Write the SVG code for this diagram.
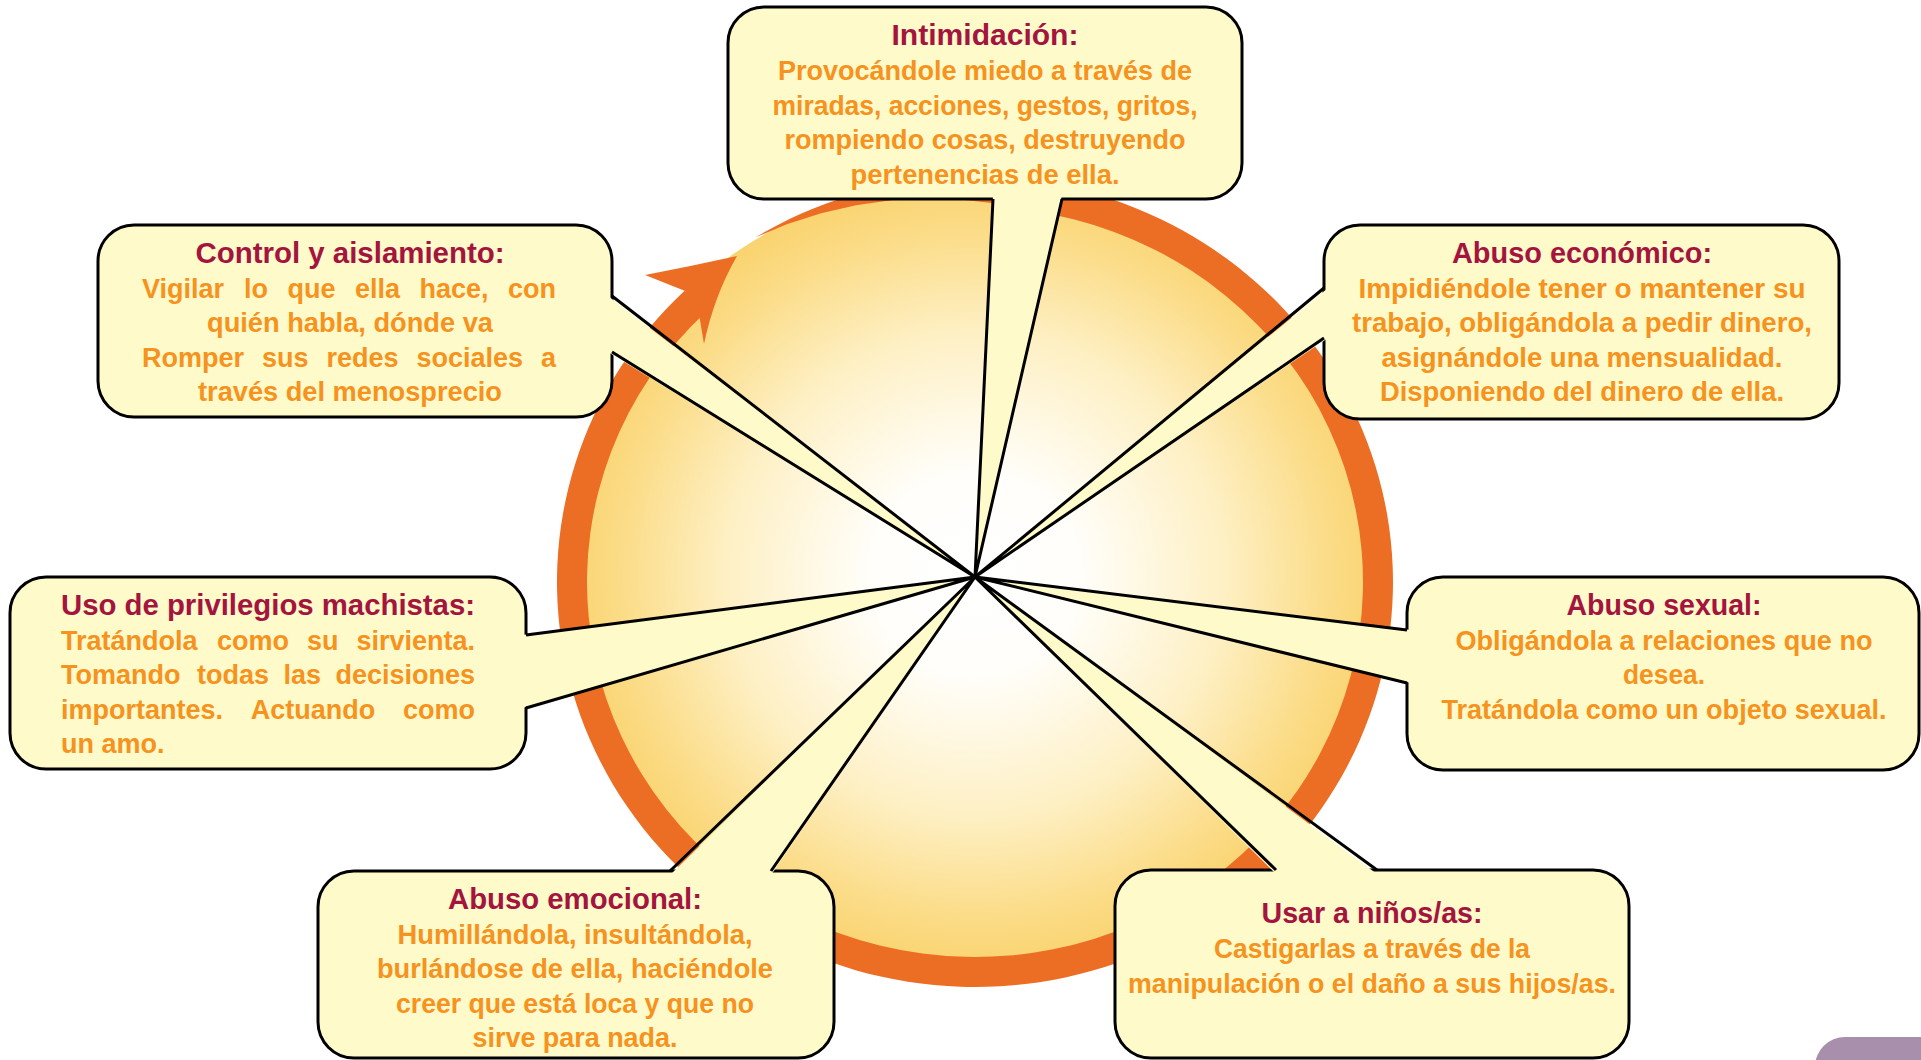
<svg xmlns="http://www.w3.org/2000/svg" width="1921" height="1060" viewBox="0 0 1921 1060">
<defs>
<radialGradient id="disk" cx="0.5" cy="0.49" r="0.5">
<stop offset="0" stop-color="#ffffff"/>
<stop offset="0.25" stop-color="#fffefa"/>
<stop offset="0.6" stop-color="#fef0c4"/>
<stop offset="0.85" stop-color="#fbdc88"/>
<stop offset="1" stop-color="#f9d26b"/>
</radialGradient>
<style>
.box{fill:#fffac9;stroke:#000;stroke-width:3}
.tf{fill:#fffac9;stroke:none}
.tl{fill:none;stroke:#000;stroke-width:3;stroke-linejoin:round}
.t{font-family:"Liberation Sans",Arial,sans-serif;font-weight:bold;font-size:29px;fill:#a3143f;text-anchor:middle}
.b{font-family:"Liberation Sans",Arial,sans-serif;font-weight:bold;font-size:27px;fill:#f6921e;text-anchor:middle}
.bl{font-family:"Liberation Sans",Arial,sans-serif;font-weight:bold;font-size:27px;fill:#f6921e;text-anchor:start}
.tl2{font-family:"Liberation Sans",Arial,sans-serif;font-weight:bold;font-size:29px;fill:#a3143f;text-anchor:start}
.e{text-anchor:end}
</style>
</defs>
<rect width="1921" height="1060" fill="#ffffff"/>
<g id="wheel">
<ellipse cx="975" cy="582" rx="416" ry="403" fill="url(#disk)"/>
<path fill="#ec6e25" d="M755.4,237.4 A418,405 0 1 1 684.6,290.7 L705.5,312.2 A388,375 0 1 0 1031,210.9 L995.5,203.5 L961.2,199.5 L926.3,198.4 L891.2,200.3 L856,205.2 L821.1,213.3 L786.8,224.3 Z"/>
<path fill="#ec6e25" d="M684.6,290.7 L645,275 Q692,266 737,256 Q714,296 704,344 L698,308 Z"/>
</g>
<g id="node-intimidacion">
<rect class="box" x="728" y="7" width="514" height="192" rx="36"/>
<text class="t" x="985" y="45" textLength="187" lengthAdjust="spacingAndGlyphs">Intimidación:</text>
<text class="b" x="985" y="80" textLength="414" lengthAdjust="spacingAndGlyphs">Provocándole miedo a través de</text>
<text class="b" x="985" y="114.5" textLength="425" lengthAdjust="spacingAndGlyphs">miradas, acciones, gestos, gritos,</text>
<text class="b" x="985" y="149" textLength="401" lengthAdjust="spacingAndGlyphs">rompiendo cosas, destruyendo</text>
<text class="b" x="985" y="183.5" textLength="269" lengthAdjust="spacingAndGlyphs">pertenencias de ella.</text>
</g>
<g id="node-control">
<rect class="box" x="98" y="225" width="514" height="192" rx="36"/>
<text class="t" x="350" y="263" textLength="309" lengthAdjust="spacingAndGlyphs">Control y aislamiento:</text>
<text class="bl" y="297.5"><tspan x="142">Vigilar</tspan><tspan x="244">lo</tspan><tspan x="287.5">que</tspan><tspan x="355">ella</tspan><tspan x="419.5">hace,</tspan><tspan class="e" x="556">con</tspan></text>
<text class="b" x="350" y="332" textLength="286" lengthAdjust="spacingAndGlyphs">quién habla, dónde va</text>
<text class="bl" y="366.5"><tspan x="142">Romper</tspan><tspan x="262">sus</tspan><tspan x="326.5">redes</tspan><tspan x="416.5">sociales</tspan><tspan class="e" x="556">a</tspan></text>
<text class="b" x="350" y="401" textLength="304" lengthAdjust="spacingAndGlyphs">través del menosprecio</text>
</g>
<g id="node-economico">
<rect class="box" x="1324" y="225" width="515" height="194" rx="36"/>
<text class="t" x="1582" y="263" textLength="260" lengthAdjust="spacingAndGlyphs">Abuso económico:</text>
<text class="b" x="1582" y="297.5" textLength="447" lengthAdjust="spacingAndGlyphs">Impidiéndole tener o mantener su</text>
<text class="b" x="1582" y="332" textLength="460" lengthAdjust="spacingAndGlyphs">trabajo, obligándola a pedir dinero,</text>
<text class="b" x="1582" y="366.5" textLength="401" lengthAdjust="spacingAndGlyphs">asignándole una mensualidad.</text>
<text class="b" x="1582" y="401" textLength="404" lengthAdjust="spacingAndGlyphs">Disponiendo del dinero de ella.</text>
</g>
<g id="node-privilegios">
<rect class="box" x="10" y="577" width="516" height="192" rx="36"/>
<text class="tl2" x="61" y="615" textLength="414" lengthAdjust="spacingAndGlyphs">Uso de privilegios machistas:</text>
<text class="bl" y="649.5"><tspan x="61">Tratándola</tspan><tspan x="217">como</tspan><tspan x="307">su</tspan><tspan class="e" x="475">sirvienta.</tspan></text>
<text class="bl" y="684"><tspan x="61">Tomando</tspan><tspan x="197">todas</tspan><tspan x="283.5">las</tspan><tspan class="e" x="475">decisiones</tspan></text>
<text class="bl" y="718.5"><tspan x="61">importantes.</tspan><tspan x="250.7">Actuando</tspan><tspan class="e" x="475">como</tspan></text>
<text class="bl" x="61" y="753">un amo.</text>
</g>
<g id="node-sexual">
<rect class="box" x="1407" y="577" width="512" height="193" rx="36"/>
<text class="t" x="1664" y="615" textLength="195" lengthAdjust="spacingAndGlyphs">Abuso sexual:</text>
<text class="b" x="1664" y="649.5" textLength="417" lengthAdjust="spacingAndGlyphs">Obligándola a relaciones que no</text>
<text class="b" x="1664" y="684" textLength="82" lengthAdjust="spacingAndGlyphs">desea.</text>
<text class="b" x="1664" y="718.5" textLength="445" lengthAdjust="spacingAndGlyphs">Tratándola como un objeto sexual.</text>
</g>
<g id="node-emocional">
<rect class="box" x="318" y="871" width="516" height="187" rx="36"/>
<text class="t" x="575" y="909" textLength="254" lengthAdjust="spacingAndGlyphs">Abuso emocional:</text>
<text class="b" x="575" y="943.5" textLength="355" lengthAdjust="spacingAndGlyphs">Humillándola, insultándola,</text>
<text class="b" x="575" y="978" textLength="396" lengthAdjust="spacingAndGlyphs">burlándose de ella, haciéndole</text>
<text class="b" x="575" y="1012.5" textLength="358" lengthAdjust="spacingAndGlyphs">creer que está loca y que no</text>
<text class="b" x="575" y="1047" textLength="205" lengthAdjust="spacingAndGlyphs">sirve para nada.</text>
</g>
<g id="node-ninos">
<rect class="box" x="1115" y="870" width="514" height="188" rx="36"/>
<text class="t" x="1372" y="923" textLength="221" lengthAdjust="spacingAndGlyphs">Usar a niños/as:</text>
<text class="b" x="1372" y="958" textLength="316" lengthAdjust="spacingAndGlyphs">Castigarlas a través de la</text>
<text class="b" x="1372" y="993" textLength="488" lengthAdjust="spacingAndGlyphs">manipulación o el daño a sus hijos/as.</text>
</g>
<g id="connectors">
<polygon class="tf" points="993,195 975,577 1062,195"/>
<polyline class="tl" points="993,199 975,577 1062,199"/>
<polygon class="tf" points="608,296 975,577 608,352"/>
<polyline class="tl" points="612,296 975,577 612,352"/>
<polygon class="tf" points="1328,288 975,577 1328,338"/>
<polyline class="tl" points="1324,288 975,577 1324,338"/>
<polygon class="tf" points="522,635 975,577 522,708"/>
<polyline class="tl" points="526,635 975,577 526,708"/>
<polygon class="tf" points="1411,630 975,577 1411,683"/>
<polyline class="tl" points="1407,630 975,577 1407,683"/>
<polygon class="tf" points="670,875 975,577 771,875"/>
<polyline class="tl" points="670,871 975,577 771,871"/>
<polygon class="tf" points="1276,874 975,577 1377,874"/>
<polyline class="tl" points="1276,870 975,577 1377,870"/>
</g>
<rect id="corner-tab" x="1815" y="1037" width="200" height="80" rx="30" fill="#a88fab"/>
</svg>
